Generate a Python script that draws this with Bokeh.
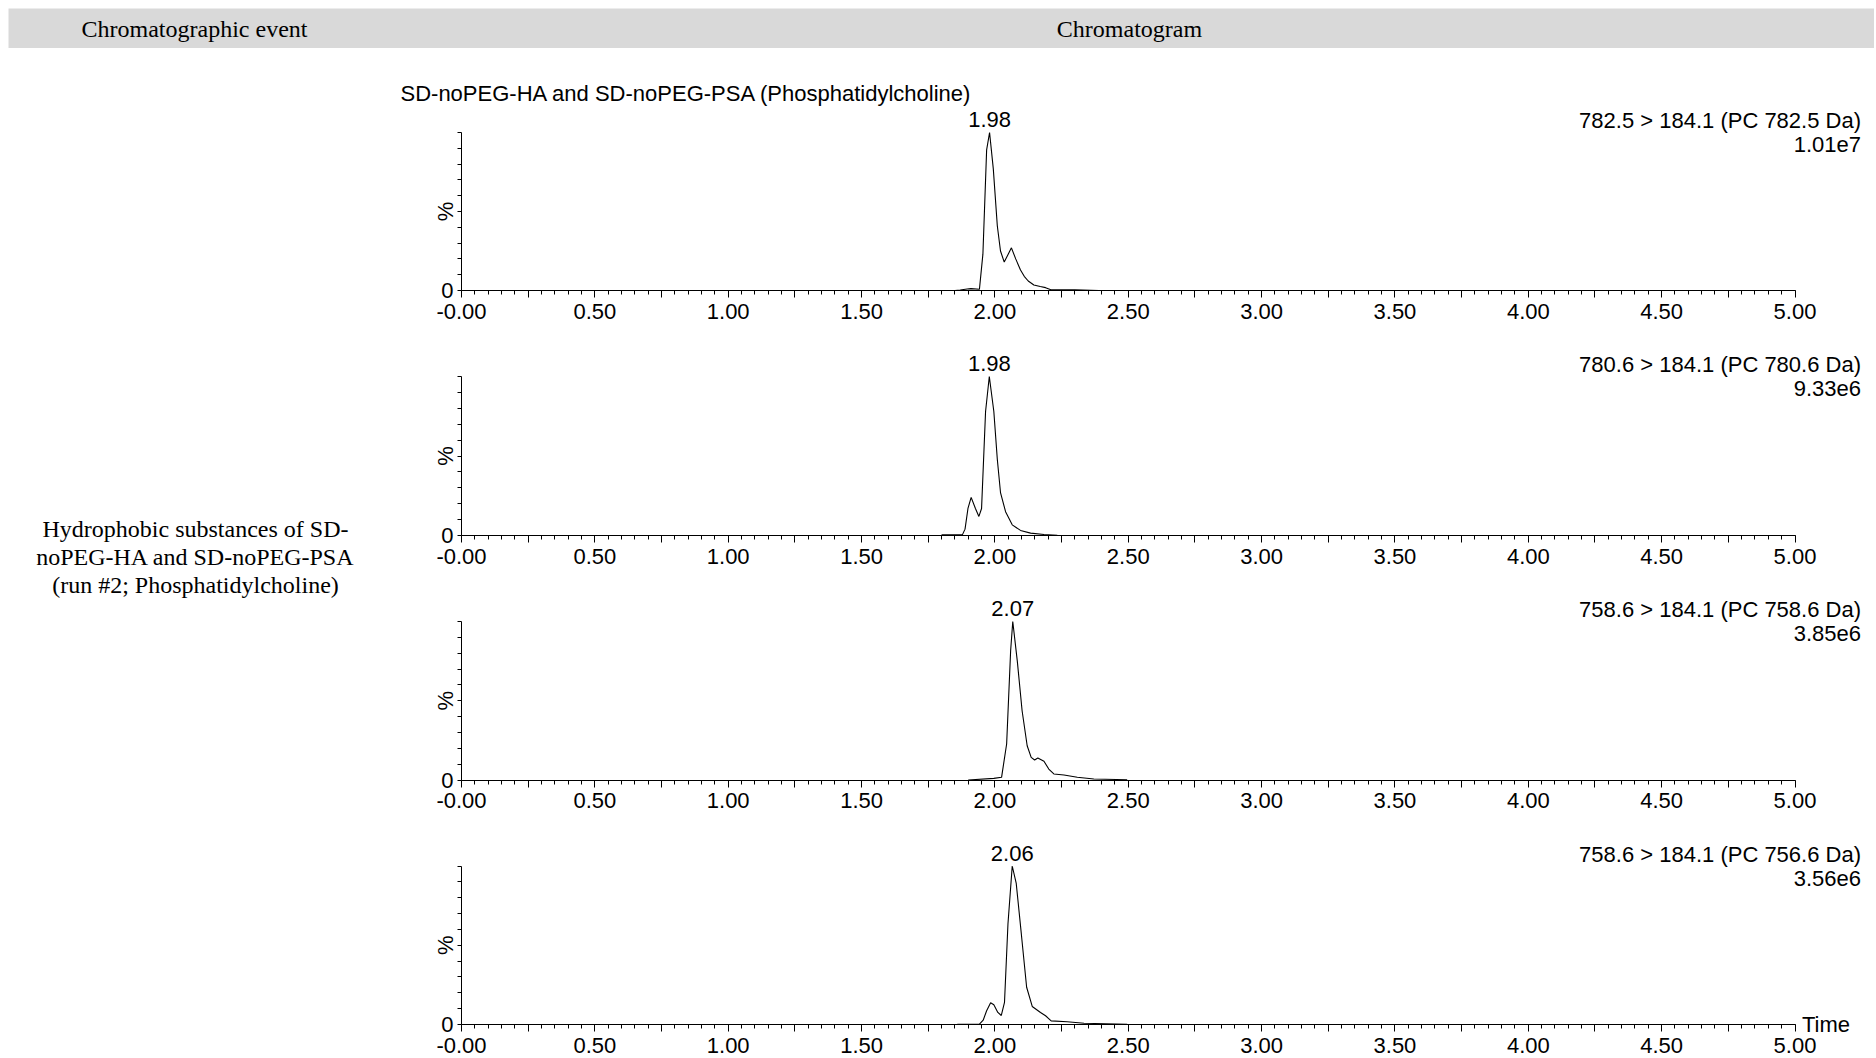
import math
from bokeh.plotting import figure
from bokeh.layouts import column, row
from bokeh.models import Range1d, Label, FixedTicker, CustomJSTickFormatter, ColumnDataSource
from bokeh.embed import file_html
from bokeh.resources import INLINE

# ---------------- data ----------------
header_left = "Chromatographic event"
header_right = "Chromatogram"
event_lines = ["Hydrophobic substances of SD-", "noPEG-HA and SD-noPEG-PSA", "(run #2; Phosphatidylcholine)"]
title_text = "SD-noPEG-HA and SD-noPEG-PSA (Phosphatidylcholine)"

t1 = [1.850, 1.870, 1.896, 1.910, 1.942, 1.955, 1.969, 1.980, 1.994, 2.009, 2.021, 2.035,
      2.062, 2.078, 2.096, 2.110, 2.125, 2.146, 2.170, 2.190, 2.210, 2.250, 2.300, 2.390]
y1 = [0.0, 0.3, 0.9, 1.2, 0.8, 23, 89, 100, 77, 41, 25, 18,
      27, 20, 13, 9, 6, 3.5, 2.5, 1.8, 0.5, 0.4, 0.4, 0.0]

t2 = [1.800, 1.878, 1.888, 1.899, 1.911, 1.927, 1.940, 1.950, 1.965, 1.979, 1.996, 2.009,
      2.021, 2.040, 2.065, 2.096, 2.134, 2.184, 2.234]
y2 = [0.4, 0.4, 4, 17, 24, 17, 12, 17, 78, 100, 78, 48,
      27, 15, 6.7, 3.2, 1.5, 0.6, 0.2]

t3 = [1.900, 1.996, 2.025, 2.044, 2.059, 2.067, 2.084, 2.102, 2.121, 2.136, 2.149, 2.161,
      2.184, 2.202, 2.221, 2.259, 2.309, 2.371, 2.496]
y3 = [0.0, 1.0, 1.7, 22.7, 81.5, 100, 75, 43.7, 21.6, 14.3, 12.6, 13.9,
      11.8, 6.9, 3.8, 3.2, 1.7, 0.6, 0.2]

t4 = [1.859, 1.942, 1.956, 1.969, 1.984, 1.996, 2.011, 2.024, 2.036, 2.049, 2.065, 2.080,
      2.099, 2.119, 2.140, 2.171, 2.190, 2.211, 2.271, 2.334, 2.496]
y4 = [0.2, 0.2, 2.7, 8.7, 13.7, 12.5, 7.6, 5.7, 14, 63.6, 100, 89,
      57.3, 23.5, 11.4, 7.6, 5.5, 2.3, 1.7, 0.8, 0.2]

peak_times = [1.980, 1.979, 2.067, 2.065]
peak_labels = ["1.98", "1.98", "2.07", "2.06"]
channel_labels = ["782.5 > 184.1 (PC 782.5 Da)", "780.6 > 184.1 (PC 780.6 Da)",
                  "758.6 > 184.1 (PC 758.6 Da)", "758.6 > 184.1 (PC 756.6 Da)"]
intensity_labels = ["1.01e7", "9.33e6", "3.85e6", "3.56e6"]
x_major = [i * 0.25 for i in range(21)]
x_minor = [round(i * 0.05, 2) for i in range(101)]
y_major = list(range(0, 101, 10))

series = [(t1, y1), (t2, y2), (t3, y3), (t4, y4)]

# ---------------- layout constants (page pixels) ----------------
SANS = "Liberation Sans"
SERIF = "Liberation Serif"
PAGE_W = 1874
PAGE_H = 1056
LEFT_W = 388
HDR_H = 48
X0_PX = 461.0          # page x of time 0
PX_PER_MIN = 266.7     # pixels per minute
# each panel: (figure top, figure bottom, frame top = 100 %, frame bottom = 0 %)
bands = [
    (48, 336, 132.0, 290.0),
    (336, 581, 376.0, 535.0),
    (581, 826, 621.0, 779.5),
    (826, PAGE_H, 865.5, 1024.0),
]

# ---------------- header ----------------
hdr = figure(width=PAGE_W, height=HDR_H, x_range=Range1d(8, PAGE_W), y_range=Range1d(HDR_H, 8),
             toolbar_location=None, output_backend="svg",
             min_border_left=8, min_border_top=8, min_border_right=0, min_border_bottom=0,
             x_axis_location=None, y_axis_location=None)
hdr.grid.visible = False
hdr.outline_line_color = None
hdr.background_fill_color = "#d9d9d9"
hdr.border_fill_color = "white"
hdr.add_layout(Label(x=194, y=28, text=header_left, text_align="center", text_baseline="middle",
                     text_font=SERIF, text_font_size="24px", text_color="black"))
hdr.add_layout(Label(x=1129, y=28, text=header_right, text_align="center", text_baseline="middle",
                     text_font=SERIF, text_font_size="24px", text_color="black"))

# ---------------- left text column ----------------
left = figure(width=LEFT_W, height=PAGE_H - HDR_H, x_range=Range1d(0, LEFT_W),
              y_range=Range1d(PAGE_H, HDR_H),
              toolbar_location=None, output_backend="svg", min_border=0,
              x_axis_location=None, y_axis_location=None)
left.grid.visible = False
left.outline_line_color = None
for ln, yy in zip(event_lines, [528, 556, 584]):
    left.add_layout(Label(x=195, y=yy, text=ln, text_align="center",
                          text_baseline="middle", text_font=SERIF, text_font_size="24px",
                          text_color="black"))

# ---------------- panels ----------------
xfmt = CustomJSTickFormatter(code="""
const r = tick / 0.5;
if (Math.abs(r - Math.round(r)) > 1e-6) { return ""; }
if (Math.abs(tick) < 1e-9) { return "-0.00"; }
return tick.toFixed(2);
""")
yfmt = CustomJSTickFormatter(code="""
return (Math.abs(tick) < 1e-9) ? "0" : "";
""")

panel_w = PAGE_W - LEFT_W
x_start = (LEFT_W - X0_PX) / PX_PER_MIN
x_end = (PAGE_W - X0_PX) / PX_PER_MIN

panels = []
for k, ((tx, ty), (ft, fb, top, bot)) in enumerate(zip(series, bands)):
    ppu = (bot - top) / 100.0
    y_lo = (bot - fb) / ppu
    y_hi = (bot - ft) / ppu
    p = figure(width=panel_w, height=int(fb - ft), x_range=Range1d(x_start, x_end),
               y_range=Range1d(y_lo, y_hi), toolbar_location=None, output_backend="svg",
               min_border=0)
    p.grid.visible = False
    p.outline_line_color = None
    p.background_fill_color = "white"
    p.border_fill_color = "white"
    src = ColumnDataSource(dict(t=tx, v=ty))
    p.line("t", "v", source=src, line_color="black", line_width=1.1)

    xa = p.xaxis[0]
    xa.fixed_location = 0
    xa.bounds = (0, 5)
    xa.ticker = FixedTicker(ticks=x_major, minor_ticks=x_minor)
    xa.formatter = xfmt
    xa.axis_line_color = "black"
    xa.major_tick_line_color = "black"
    xa.minor_tick_line_color = "black"
    xa.major_tick_out = 7
    xa.major_tick_in = 0
    xa.minor_tick_out = 4
    xa.minor_tick_in = 0
    xa.major_label_standoff = 6
    xa.major_label_text_font = SANS
    xa.major_label_text_font_size = "22px"
    xa.major_label_text_color = "black"

    ya = p.yaxis[0]
    ya.fixed_location = 0
    ya.bounds = (0, 100)
    ya.ticker = FixedTicker(ticks=y_major, minor_ticks=[])
    ya.formatter = yfmt
    ya.axis_line_color = "black"
    ya.major_tick_line_color = "black"
    ya.minor_tick_line_color = None
    ya.major_tick_out = 4
    ya.major_tick_in = 0
    ya.major_label_standoff = 4
    ya.major_label_text_font = SANS
    ya.major_label_text_font_size = "22px"
    ya.major_label_text_color = "black"

    common = dict(text_font=SANS, text_color="black", text_baseline="middle")
    p.add_layout(Label(x=0, y=50, x_offset=-16, text="%", angle=math.pi / 2,
                       text_align="center", text_font_size="22px", **common))
    p.add_layout(Label(x=peak_times[k], y=100, y_offset=13, text=peak_labels[k],
                       text_align="center", text_font_size="22px", **common))
    p.add_layout(Label(x=5, y=100, x_offset=66, y_offset=12, text=channel_labels[k],
                       text_align="right", text_font_size="22px", **common))
    p.add_layout(Label(x=5, y=100, x_offset=66, y_offset=-12, text=intensity_labels[k],
                       text_align="right", text_font_size="22px", **common))
    if k == 0:
        p.add_layout(Label(x=0, y=100, x_offset=-61, y_offset=39, text=title_text,
                           text_align="left", text_font_size="22px", **common))
    if k == 3:
        p.add_layout(Label(x=5, y=0, x_offset=7, text="Time",
                           text_align="left", text_font_size="22px", **common))
    panels.append(p)

layout = column(hdr, row(left, column(*panels)))
open("out.html", "w").write(file_html(layout, INLINE))
